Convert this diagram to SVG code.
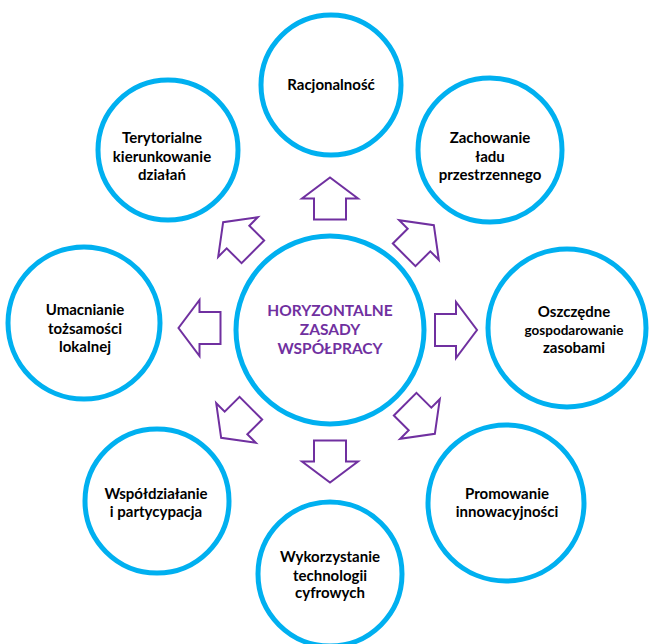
<svg xmlns="http://www.w3.org/2000/svg" width="651" height="644" viewBox="0 0 651 644">
<defs>
<style>
.c{fill:#fff;stroke:#00B0F0;stroke-width:5}
.t{font-family:Lato,"Open Sans","Liberation Sans",sans-serif;font-weight:700;font-size:15px;fill:#000;text-anchor:middle}
.h{font-family:Lato,"Open Sans","Liberation Sans",sans-serif;font-weight:700;font-size:15.5px;fill:#7030A0;text-anchor:middle}
.a{fill:#fff;stroke:#7030A0;stroke-width:2;stroke-linejoin:miter}
</style>
<path id="arr" d="M-21,-16 H0 V-28 L21,0 L0,28 V16 H-21 Z"/>
</defs>
<rect width="651" height="644" fill="#fff"/>
<g id="connectors">
<use href="#arr" class="a" transform="translate(330,198.5) rotate(-90)"/>
<use href="#arr" class="a" transform="translate(419,240) rotate(-45)"/>
<use href="#arr" class="a" transform="translate(456,330)"/>
<use href="#arr" class="a" transform="translate(420,419) rotate(45)"/>
<use href="#arr" class="a" transform="translate(330,461.5) rotate(90)"/>
<use href="#arr" class="a" transform="translate(236,423) rotate(135)"/>
<use href="#arr" class="a" transform="translate(199.5,328) rotate(180)"/>
<use href="#arr" class="a" transform="translate(238,237) rotate(-135)"/>
</g>
<g id="center">
<circle class="c" cx="330" cy="330" r="94"/>
<text class="h" x="330" y="316">HORYZONTALNE</text>
<text class="h" x="330" y="335">ZASADY</text>
<text class="h" x="330" y="354">WSPÓŁPRACY</text>
</g>
<g id="n1">
<circle class="c" cx="331" cy="85" r="70"/>
<text class="t" x="331" y="90">Racjonalność</text>
</g>
<g id="n2">
<circle class="c" cx="490" cy="150" r="72"/>
<text class="t" x="490" y="143">Zachowanie</text>
<text class="t" x="490" y="162">ładu</text>
<text class="t" x="490" y="180">przestrzennego</text>
</g>
<g id="n3">
<circle class="c" cx="567" cy="328" r="79"/>
<text class="t" x="574" y="317">Oszczędne</text>
<text class="t" x="574" y="335" style="font-size:13.5px">gospodarowanie</text>
<text class="t" x="574" y="353">zasobami</text>
</g>
<g id="n4">
<circle class="c" cx="506" cy="503" r="78"/>
<text class="t" x="507" y="499">Promowanie</text>
<text class="t" x="507" y="517">innowacyjności</text>
</g>
<g id="n5">
<circle class="c" cx="330" cy="574" r="72"/>
<text class="t" x="330" y="562">Wykorzystanie</text>
<text class="t" x="330" y="581">technologii</text>
<text class="t" x="330" y="598">cyfrowych</text>
</g>
<g id="n6">
<circle class="c" cx="157" cy="501" r="72"/>
<text class="t" x="156" y="499">Współdziałanie</text>
<text class="t" x="156" y="517">i partycypacja</text>
</g>
<g id="n7">
<circle class="c" cx="84" cy="323" r="76"/>
<text class="t" x="85" y="315">Umacnianie</text>
<text class="t" x="85" y="334">tożsamości</text>
<text class="t" x="85" y="352">lokalnej</text>
</g>
<g id="n8">
<circle class="c" cx="168" cy="150" r="70"/>
<text class="t" x="162" y="143">Terytorialne</text>
<text class="t" x="162" y="162">kierunkowanie</text>
<text class="t" x="162" y="180">działań</text>
</g>
</svg>
